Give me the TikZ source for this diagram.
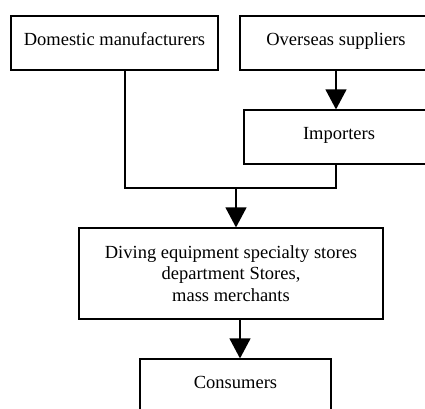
\documentclass[tikz,border=0pt]{standalone}
\usepackage{fontspec}
\setmainfont{Liberation Serif}
\usetikzlibrary{arrows.meta}
\begin{document}
\begin{tikzpicture}[x=1pt,y=-1pt,
  box/.style={draw, line width=1.2pt, inner sep=0pt, font=\fontsize{18.5}{21.5}\selectfont, align=center},
  one/.style={text height=13pt, text depth=9pt},
  flow/.style={line width=1.2pt},
  arr/.style={flow, -{Triangle[width=21pt,length=20pt]}}]
\useasboundingbox (0,0) rectangle (425,408);
\clip (0,0) rectangle (425,408);
\node[box,one,minimum width=207pt,minimum height=54pt] (dom) at (114.5,43) {Domestic manufacturers};
\node[box,one,minimum width=192pt,minimum height=54pt] (ovs) at (336,43) {Overseas suppliers};
\node[box,one,minimum width=190pt,minimum height=54pt] (imp) at (339,137) {Importers};
\node[box,minimum width=304pt,minimum height=91pt] (div) at (231,273.5) {Diving equipment specialty stores\\department Stores,\\mass merchants};
\node[box,one,minimum width=191pt,minimum height=54pt] (con) at (235.5,386) {Consumers};
\coordinate (j) at (236,188);
\draw[flow] ([xshift=10.5pt]dom.south) |- (j) -| (ovs.south |- imp.south);
\draw[arr] (ovs.south) -- (ovs.south |- imp.north);
\draw[arr] (j) -- (j |- div.north);
\draw[arr] ([xshift=9pt]div.south) -- ([xshift=9pt]div.south |- con.north);
\end{tikzpicture}
\end{document}
